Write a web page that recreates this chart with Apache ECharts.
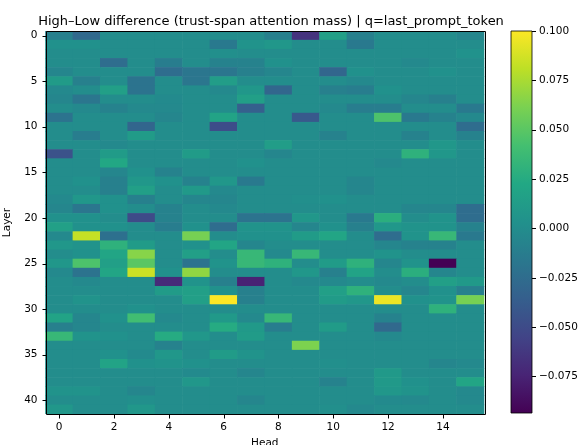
<!DOCTYPE html>
<html>
<head>
<meta charset="utf-8">
<script src="https://cdn.jsdelivr.net/npm/echarts@6/dist/echarts.min.js"></script>
<style>
  html, body { margin: 0; padding: 0; background: #fff; }
  #main { width: 581px; height: 445px; }
</style>
</head>
<body>
<div id="main"></div>
<script>
// heads on x, layers on y (row 0 at top)
var heads = [];
for (var h = 0; h < 16; h++) heads.push(String(h));
var layers = [];
for (var l = 0; l < 42; l++) layers.push(String(l));

var vmin = -0.0935;
var vmax = 0.1;
var cbarTicks = [-0.075, -0.05, -0.025, 0, 0.025, 0.05, 0.075, 0.1];

// High-Low difference, one row per layer, 16 heads each
var diff = [
  [-0.010,-0.028,0,0,0,0,0,0,-0.010,-0.065,0.015,-0.010,0,0,0,-0.005],
  [0.003,0.003,0,0,0,0,-0.015,0.005,0.008,0,0,-0.015,0,0,0,0],
  [0,0,0,0,0,0,0.002,0,0,0,0,0,0,0,0,0.004],
  [0,0,-0.025,0,-0.012,0,-0.008,-0.008,0.003,0,0,0,0,-0.003,0,0],
  [-0.005,0,0,0,-0.025,-0.018,-0.018,-0.010,-0.005,0,-0.030,0.003,0,0,0.003,0],
  [0.012,-0.010,0,-0.020,0,-0.018,0.013,0,0,0,0,-0.003,0,0,0,0],
  [-0.003,0,0.015,-0.020,0,0,-0.003,0.008,-0.030,0,-0.010,-0.012,0.003,0,0,0],
  [-0.005,-0.018,0,0,-0.002,0,0,0.015,0,0,0,0,0,-0.005,-0.010,0],
  [0,-0.003,-0.008,-0.003,-0.003,0,0,-0.035,0,0,-0.003,-0.012,-0.012,0,0,-0.015],
  [-0.020,0,0,0,-0.005,0,0.018,0,0,-0.040,0,0,0.045,-0.015,-0.008,-0.003],
  [0,0,0,-0.030,0,0,-0.048,0,0,0,0,0,0,0,0,-0.025],
  [0,-0.012,0,0.012,0,0,0,0,0,0,-0.008,0,0,-0.008,0,-0.008],
  [0,0,-0.003,0,0,0,0,0,0.013,0,0,0,0,0,0.008,0],
  [-0.045,0,0.012,0,0,0.012,0,0,-0.005,0,0,0,0,0.030,0.008,0],
  [0,0,0.022,0,0,0,0,0.003,0,0,0,0,-0.003,0,0,0],
  [0,0,-0.005,0.003,-0.008,0,0,0,0,0,0,0,0,0,0,0],
  [0,0.003,-0.010,0.008,0.003,-0.008,0.008,-0.015,0,0,0,-0.005,0,0,0,0],
  [0,0,-0.010,0.015,0,0.010,-0.003,0,0,0,0,-0.005,0,0,0,0],
  [-0.003,0.008,0.003,-0.010,0,-0.005,-0.005,0,0,0.002,0.003,0,0,0,0,0],
  [-0.005,-0.018,0.003,0,-0.008,0,-0.003,0,0,0,0,0,0,-0.005,-0.005,-0.025],
  [0.003,0.003,0,-0.050,-0.008,0,0,-0.020,-0.020,0.008,0,-0.015,0.028,0,0.005,-0.025],
  [0.016,0.003,0.003,0,-0.012,0.003,-0.025,0.005,0.005,-0.005,0.003,-0.010,0.008,0.005,0.005,-0.008],
  [-0.003,0.083,-0.022,0,0,0.060,0,0.003,0.003,0.012,0.020,0,-0.025,0.005,0.035,-0.015],
  [0.008,0.005,0.030,0.012,0,0.003,0.020,-0.005,0,0,0,0,-0.005,-0.008,-0.008,0],
  [0,0.003,0.020,0.065,0,0.015,0,0.035,-0.003,0.035,0,0,0.005,0,0,0],
  [0.008,0.045,0.015,0.050,0,-0.020,0.005,0.035,0.030,0,0.012,0.030,-0.005,0.005,-0.0935,0],
  [-0.003,-0.020,0.020,0.085,0.003,0.068,0,0,0,0.008,-0.010,0.018,0,0.028,-0.005,0],
  [0,-0.003,0,0,-0.070,0.005,-0.010,-0.075,0,-0.003,-0.003,0,-0.003,0,0.015,0.010],
  [0,0,0,0,0.012,0.015,0.003,-0.010,0,0,0.015,0.030,0,-0.005,0.003,-0.010],
  [0,0.005,0,0,0,0.015,0.100,-0.010,0,0,0.012,0.008,0.095,0.003,0.005,0.060],
  [0,0,0,0.003,0,0,0,0,0,0,0,0,0,0,0.030,0],
  [0.018,-0.005,0.003,0.040,-0.003,0,0.010,-0.003,0.035,0,0,0,-0.008,0,0,0],
  [-0.010,-0.005,0,0,0,0,0.025,0.010,-0.012,0,0.012,0,-0.028,0,0,0],
  [0.035,0.005,0.003,0,0.025,0.008,0,0.012,0,0,0,0,-0.003,0,0,0],
  [0,0,0,0,-0.008,0,0,0,0,0.062,0,0,0,0,0,0],
  [0,0,0.003,-0.002,0.008,0,0.012,0.005,0,0,0,0,0,0,0,0],
  [0,0,0.018,0.003,0.005,0.003,0,0,0,0,0.002,0,0,0,-0.005,-0.003],
  [0,0,0,0,0,-0.002,0,-0.005,0,0,0,0,0.010,0,0,0],
  [0,0,0,0,0,0.008,0,0,0,0,-0.008,0,0.010,0.003,0,0.020],
  [0.005,0.005,0,-0.005,0,0,0,0,0,0,0,0,0.008,0.005,0,-0.003],
  [0,0,0,0.002,0,0,0,-0.005,0,0,0,0,-0.002,-0.003,0,-0.003],
  [0.008,0,0,0.008,0,0,0,0,0,0,0.002,-0.003,0,0,0,0]
];

var viridis = ['#440154','#482475','#414487','#355f8d','#2a788e','#21918c',
               '#22a884','#44bf70','#7ad151','#bddf26','#fde725'];

var cells = [];
for (var i = 0; i < diff.length; i++) {
  for (var j = 0; j < diff[i].length; j++) {
    cells.push([j, i, diff[i][j]]);
  }
}

var font = 'DejaVu Sans';
var axisTxt = { color: '#000', fontFamily: font, fontSize: 10.5 };
var tickLen = 4;

function px(v) { return Math.round(v) + 0.5; }
function tickLine(x1, y1, x2, y2) {
  return { type: 'line', shape: { x1: x1, y1: y1, x2: x2, y2: y2 },
           style: { stroke: '#000', lineWidth: 1 } };
}

var chart = echarts.init(document.getElementById('main'), null, { renderer: 'canvas' });
var option = {
  animation: false,
  textStyle: { fontFamily: font },
  title: {
    text: 'High\u2013Low difference (trust-span attention mass) | q=last_prompt_token',
    left: 266, top: 10, textAlign: 'center',
    textStyle: { fontFamily: font, fontSize: 13, fontWeight: 'normal', color: '#000' }
  },
  grid: [
    { left: 45.5, right: 97, top: 31, bottom: 31, outerBoundsMode: 'none', containLabel: false },
    { left: 511, width: 21, top: 31, bottom: 32, outerBoundsMode: 'none', containLabel: false }
  ],
  visualMap: {
    show: false, seriesIndex: 0, dimension: 2, min: vmin, max: vmax,
    inRange: { color: viridis }
  },
  xAxis: [
    {
      type: 'category', data: heads, gridIndex: 0,
      name: 'Head', nameLocation: 'middle', nameGap: 22,
      nameTextStyle: axisTxt,
      axisLine: { show: false }, axisTick: { show: false },
      axisLabel: Object.assign({ interval: 1, margin: 8 }, axisTxt),
      splitLine: { show: false }
    },
    { type: 'value', gridIndex: 1, min: 0, max: 1, show: false }
  ],
  yAxis: [
    {
      type: 'category', data: layers, gridIndex: 0, inverse: true,
      name: 'Layer', nameLocation: 'middle', nameGap: 26,
      nameTextStyle: axisTxt,
      axisLine: { show: false }, axisTick: { show: false },
      axisLabel: Object.assign({ interval: 4, margin: 8 }, axisTxt),
      splitLine: { show: false }
    },
    {
      type: 'value', gridIndex: 1, min: vmin, max: vmax, position: 'right',
      axisLine: { show: false }, axisTick: { show: false },
      axisLabel: Object.assign({
        customValues: cbarTicks, margin: 7,
        formatter: function (v) { return v.toFixed(3).replace('-', '\u2212'); }
      }, axisTxt),
      splitLine: { show: false }
    }
  ],
  series: [
    {
      // heatmap cells, slightly overlapped so no seams show between them
      type: 'custom', xAxisIndex: 0, yAxisIndex: 0,
      data: cells,
      encode: { x: 0, y: 1 },
      renderItem: function (params, api) {
        var c = api.coord([api.value(0), api.value(1)]);
        var s = api.size([1, 1]);
        return {
          type: 'rect',
          shape: { x: c[0] - s[0] / 2 - 0.3, y: c[1] - s[1] / 2 - 0.3, width: s[0] + 0.6, height: s[1] + 0.6 },
          style: { fill: api.visual('color') }
        };
      },
      clip: true,
      z: 1
    },
    {
      // axes frame + outward ticks, placed from the category scales
      type: 'custom', xAxisIndex: 0, yAxisIndex: 0,
      data: [[0, 0]],
      clip: false, silent: true, z: 5,
      renderItem: function (params, api) {
        var s = api.size([1, 1]);
        var a = api.coord([0, 0]);
        var b = api.coord([heads.length - 1, layers.length - 1]);
        var left = a[0] - s[0] / 2, right = b[0] + s[0] / 2;
        var top = a[1] - s[1] / 2, bottom = b[1] + s[1] / 2;
        var kids = [{
          type: 'rect',
          shape: { x: px(left), y: px(top), width: Math.round(right - left), height: Math.round(bottom - top) },
          style: { fill: null, stroke: '#000', lineWidth: 1 }
        }];
        for (var k = 0; k < heads.length; k += 2) {
          var x = px(api.coord([k, 0])[0]);
          kids.push(tickLine(x, px(bottom), x, px(bottom) + tickLen));
        }
        for (var r = 0; r < layers.length; r += 5) {
          var y = px(api.coord([0, r])[1]);
          kids.push(tickLine(px(left) - tickLen, y, px(left), y));
        }
        return { type: 'group', children: kids };
      }
    },
    {
      // colorbar, drawn on its own value axis
      type: 'custom', xAxisIndex: 1, yAxisIndex: 1,
      data: [[0, vmin, 1, vmax]],
      clip: false, silent: true,
      renderItem: function (params, api) {
        var p0 = api.coord([api.value(0), api.value(1)]);
        var p1 = api.coord([api.value(2), api.value(3)]);
        var stops = viridis.map(function (c, k) { return { offset: k / (viridis.length - 1), color: c }; });
        var kids = [{
          type: 'rect',
          shape: { x: p0[0], y: p1[1], width: p1[0] - p0[0], height: p0[1] - p1[1] },
          style: {
            fill: new echarts.graphic.LinearGradient(0, 1, 0, 0, stops),
            stroke: '#000', lineWidth: 0.8
          }
        }];
        cbarTicks.forEach(function (t) {
          var y = px(api.coord([1, t])[1]);
          kids.push(tickLine(p1[0], y, p1[0] + tickLen, y));
        });
        return { type: 'group', children: kids };
      }
    }
  ]
};
option && chart.setOption(option);
</script>
</body>
</html>
